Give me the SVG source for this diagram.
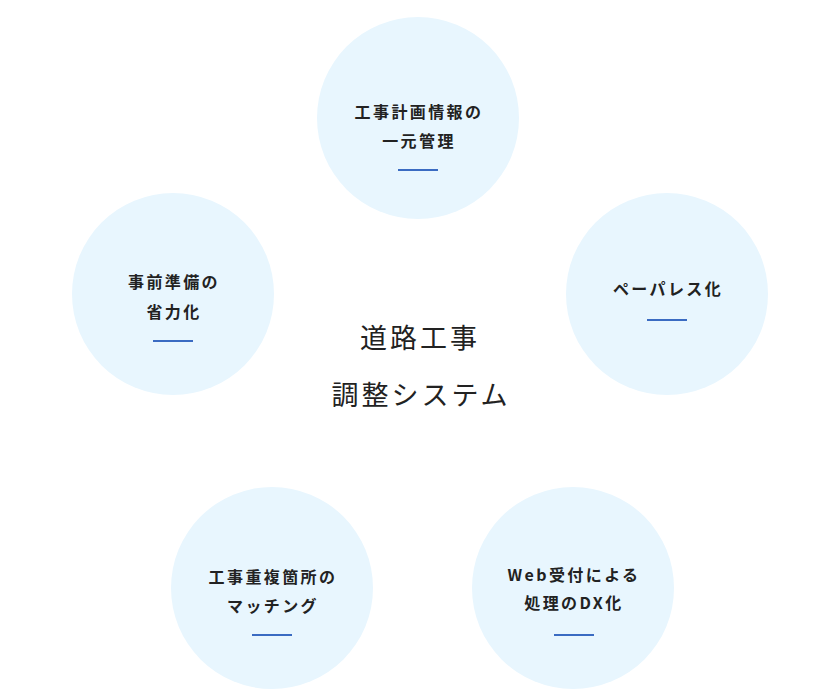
<svg xmlns="http://www.w3.org/2000/svg" width="820" height="700" viewBox="0 0 820 700">
<style>
.c{fill:#e8f6fe}
.t{font-family:"Noto Sans CJK JP","Noto Sans",sans-serif;font-size:16px;font-weight:700;fill:#222;text-anchor:middle;letter-spacing:2.4px}
.b{stroke:#3a6bc2;stroke-width:2}
.m{font-family:"Liberation Serif","Noto Sans CJK JP",serif;font-size:27px;font-weight:400;fill:#222;text-anchor:middle;letter-spacing:3px}
</style>
<rect width="820" height="700" fill="#fff"/>
<g id="connectors"></g>
<g id="center"><text class="m" x="420" y="348">道路工事</text><text class="m" x="421" y="405">調整システム</text></g>
<g id="n1"><circle class="c" cx="418" cy="118" r="101"/><text class="t" x="419" y="118">工事計画情報の</text><text class="t" x="419" y="147">一元管理</text><line class="b" x1="398" y1="170" x2="438" y2="170"/></g>
<g id="n2"><circle class="c" cx="173" cy="294" r="101"/><text class="t" x="174" y="288">事前準備の</text><text class="t" x="174" y="318">省力化</text><line class="b" x1="153" y1="341" x2="193" y2="341"/></g>
<g id="n3"><circle class="c" cx="667" cy="294" r="101"/><text class="t" x="668" y="295">ペーパレス化</text><line class="b" x1="647" y1="320" x2="687" y2="320"/></g>
<g id="n4"><circle class="c" cx="272" cy="588" r="101"/><text class="t" x="273" y="583">工事重複箇所の</text><text class="t" x="273" y="612">マッチング</text><line class="b" x1="252" y1="635" x2="292" y2="635"/></g>
<g id="n5"><circle class="c" cx="573" cy="588" r="101"/><text class="t" x="574" y="581">Web受付による</text><text class="t" x="574" y="609">処理のDX化</text><line class="b" x1="554" y1="635" x2="594" y2="635"/></g>
</svg>
